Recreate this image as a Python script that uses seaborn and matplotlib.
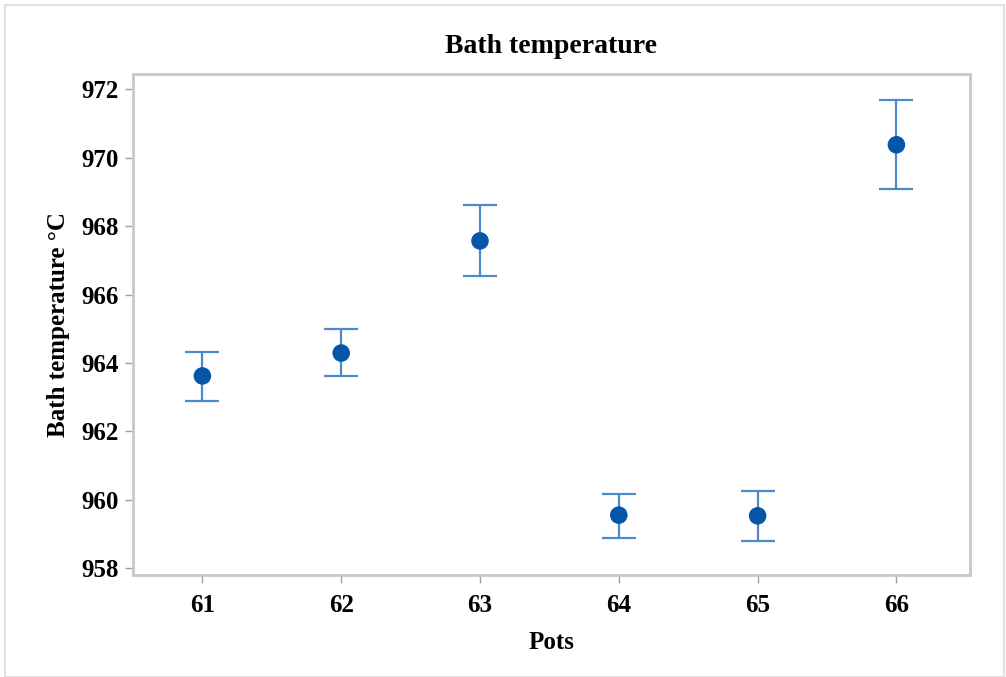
import numpy as np
import pandas as pd
import matplotlib
matplotlib.use("Agg")
import matplotlib.pyplot as plt
import seaborn as sns

# Datos
pots = [61, 62, 63, 64, 65, 66]
media = [963.62, 964.29, 967.57, 959.55, 959.53, 970.38]
superior = [964.33, 964.98, 968.62, 960.17, 960.26, 971.69]
inferior = [962.88, 963.61, 966.53, 958.88, 958.80, 969.09]

df = pd.DataFrame({"pots": pots, "media": media,
                   "superior": superior, "inferior": inferior})

sns.set_style("white")
plt.rcParams["font.family"] = ["Liberation Serif", "DejaVu Serif"]
plt.rcParams["font.weight"] = "bold"
plt.rcParams["text.color"] = "black"
plt.rcParams["axes.labelcolor"] = "black"
plt.rcParams["xtick.color"] = "black"
plt.rcParams["ytick.color"] = "black"

fig = plt.figure(figsize=(10.06, 6.77), dpi=100)
ax = fig.add_axes([0.1322, 0.1507, 0.832, 0.74])

# barras de error
err = [df["media"] - df["inferior"], df["superior"] - df["media"]]
ax.errorbar(df["pots"], df["media"], yerr=err, fmt="none",
            ecolor="#4B8BCB", elinewidth=1.6, capsize=12, capthick=1.6,
            zorder=2)

sns.scatterplot(x="pots", y="media", data=df, ax=ax, s=160,
                color="#0556A8", edgecolor="none", zorder=3)

ax.set_xlim(60.5, 66.53)
ax.set_ylim(957.8, 972.45)
ax.set_xticks(pots)
ax.set_yticks(np.arange(958, 973, 2))

for s in ax.spines.values():
    s.set_color("#C8C8C8")
    s.set_linewidth(2)

ax.tick_params(axis="both", direction="out", length=6, width=1,
               color="#A0A0A0", labelcolor="black", labelsize=18, pad=4,
               bottom=True, left=True)
ax.tick_params(axis="x", pad=8)
for lbl in ax.get_xticklabels() + ax.get_yticklabels():
    lbl.set_fontweight("bold")

ax.set_title("Bath temperature", fontsize=20, fontweight="bold", pad=15,
             color="black")
ax.set_xlabel("Pots", fontsize=18, fontweight="bold", labelpad=10)
ax.set_ylabel("Bath temperature \u00b0C", fontsize=18, fontweight="bold",
              labelpad=8)

# marco exterior claro
fig.patches.append(plt.Rectangle((0.005, 0.0), 0.993, 0.993,
                                 transform=fig.transFigure, fill=False,
                                 edgecolor="#E0E0E0", linewidth=1.5))

fig.savefig("out.png", dpi=100)
